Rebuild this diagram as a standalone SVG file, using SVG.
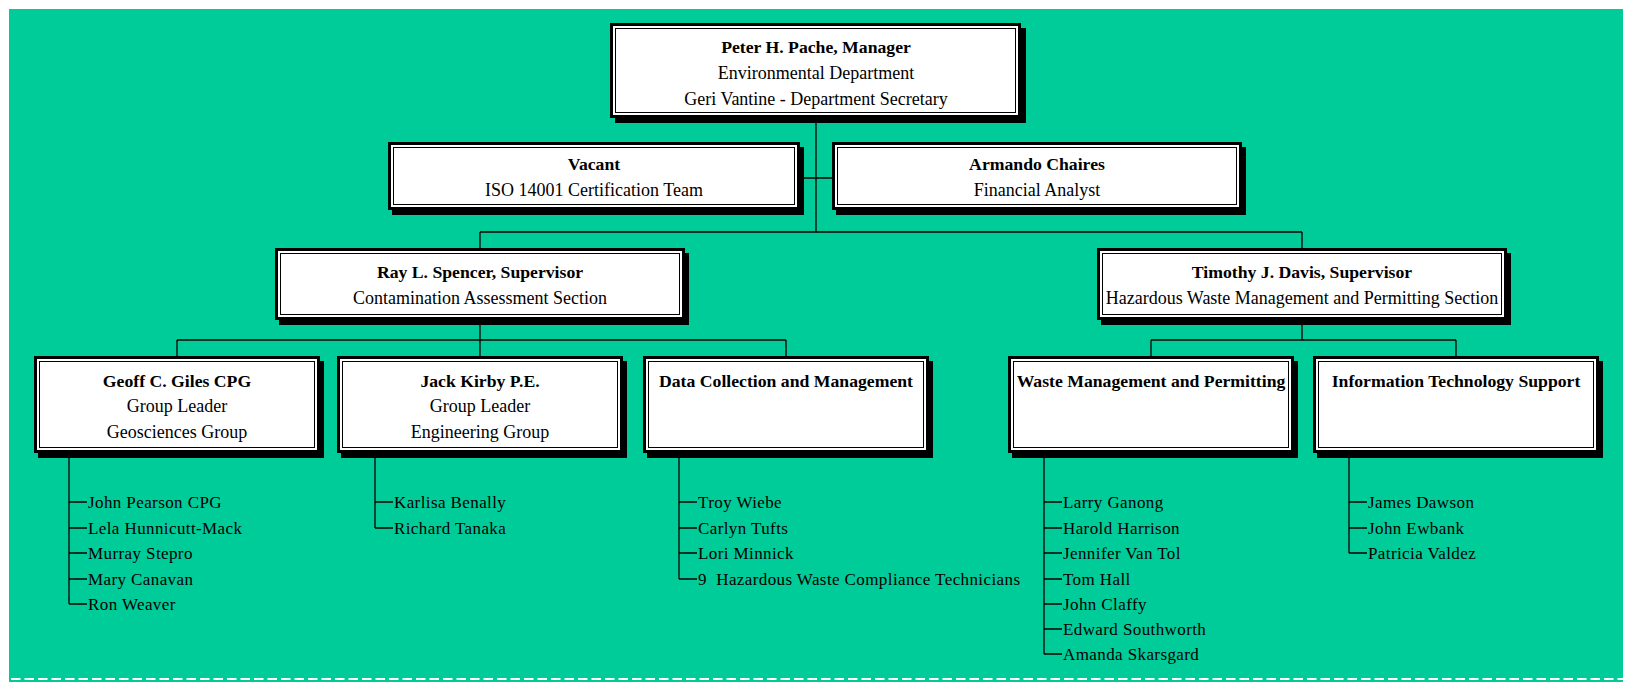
<svg xmlns="http://www.w3.org/2000/svg" width="1627" height="682" viewBox="0 0 1627 682">
<defs>
<style>
.bg{fill:#00cc99}
.sh{fill:#000}
.fr{fill:#fff;stroke:#000;stroke-width:3}
.in{fill:none;stroke:#000;stroke-width:1}
.t{font-family:"Liberation Serif","Times New Roman",serif;font-size:18px;fill:#000;text-anchor:middle}
.b{font-weight:bold;font-size:17.7px}
.li{font-family:"Liberation Serif","Times New Roman",serif;font-size:17px;fill:#000;letter-spacing:0.4px}
.c{fill:none;stroke:#000;stroke-width:1.3}
.dash{fill:none;stroke:#fff;stroke-width:2;stroke-dasharray:9.5 4}
</style>
</defs>
<rect class="bg" x="9" y="9" width="1614" height="673"/>
<line class="dash" x1="11" y1="679" x2="1623" y2="679"/>

<g id="connectors">
<path class="c" d="M816 118V232M800 178H832M480 232H1302M480 232V249M1302 232V249"/>
<path class="c" d="M480 320V340M177 340H786M177 340V357M480 340V357M786 340V357"/>
<path class="c" d="M1302 320V340M1151 340H1456M1151 340V357M1456 340V357"/>
<path class="c" d="M69 452V604M69 502H87M69 528H87M69 553H87M69 579H87M69 604H87"/>
<path class="c" d="M375 452V528M375 502H393M375 528H393"/>
<path class="c" d="M679 452V579M679 502H697M679 528H697M679 553H697M679 579H697"/>
<path class="c" d="M1044 452V654M1044 502H1062M1044 528H1062M1044 553H1062M1044 579H1062M1044 604H1062M1044 629H1062M1044 654H1062"/>
<path class="c" d="M1349 452V553M1349 502H1367M1349 528H1367M1349 553H1367"/>
</g>

<g id="n-pache">
<rect class="sh" x="615" y="28" width="411" height="95"/>
<rect class="fr" x="611.5" y="24.5" width="408" height="92"/>
<rect class="in" x="615.5" y="28.5" width="400" height="84"/>
<text class="t b" x="816" y="53">Peter H. Pache, Manager</text>
<text class="t" x="816" y="79">Environmental Department</text>
<text class="t" x="816" y="104.5">Geri Vantine - Department Secretary</text>
</g>

<g id="n-vacant">
<rect class="sh" x="392" y="147" width="412" height="68"/>
<rect class="fr" x="389.5" y="143.5" width="409" height="65"/>
<rect class="in" x="393.5" y="147.5" width="401" height="57"/>
<text class="t b" x="594" y="169.5">Vacant</text>
<text class="t" x="594" y="196">ISO 14001 Certification Team</text>
</g>

<g id="n-chaires">
<rect class="sh" x="836" y="147" width="410" height="68"/>
<rect class="fr" x="833.5" y="143.5" width="407" height="65"/>
<rect class="in" x="837.5" y="147.5" width="399" height="57"/>
<text class="t b" x="1037" y="169.5">Armando Chaires</text>
<text class="t" x="1037" y="196">Financial Analyst</text>
</g>

<g id="n-spencer">
<rect class="sh" x="279" y="253" width="410" height="72"/>
<rect class="fr" x="276.5" y="249.5" width="407" height="69"/>
<rect class="in" x="280.5" y="253.5" width="399" height="61"/>
<text class="t b" x="480" y="278">Ray L. Spencer, Supervisor</text>
<text class="t" x="480" y="304">Contamination Assessment Section</text>
</g>

<g id="n-davis">
<rect class="sh" x="1101" y="253" width="410" height="72"/>
<rect class="fr" x="1098.5" y="249.5" width="407" height="69"/>
<rect class="in" x="1102.5" y="253.5" width="399" height="61"/>
<text class="t b" x="1302" y="278">Timothy J. Davis, Supervisor</text>
<text class="t" x="1302" y="304">Hazardous Waste Management and Permitting Section</text>
</g>

<g id="n-giles">
<rect class="sh" x="38" y="361" width="286" height="97"/>
<rect class="fr" x="35.5" y="357.5" width="283" height="94"/>
<rect class="in" x="39.5" y="361.5" width="275" height="86"/>
<text class="t b" x="177" y="387">Geoff C. Giles CPG</text>
<text class="t" x="177" y="412">Group Leader</text>
<text class="t" x="177" y="438">Geosciences Group</text>
</g>

<g id="n-kirby">
<rect class="sh" x="341" y="361" width="286" height="97"/>
<rect class="fr" x="338.5" y="357.5" width="283" height="94"/>
<rect class="in" x="342.5" y="361.5" width="275" height="86"/>
<text class="t b" x="480" y="387">Jack Kirby P.E.</text>
<text class="t" x="480" y="412">Group Leader</text>
<text class="t" x="480" y="438">Engineering Group</text>
</g>

<g id="n-data">
<rect class="sh" x="647" y="361" width="286" height="97"/>
<rect class="fr" x="644.5" y="357.5" width="283" height="94"/>
<rect class="in" x="648.5" y="361.5" width="275" height="86"/>
<text class="t b" x="786" y="387">Data Collection and Management</text>
</g>

<g id="n-waste">
<rect class="sh" x="1012" y="361" width="286" height="97"/>
<rect class="fr" x="1009.5" y="357.5" width="283" height="94"/>
<rect class="in" x="1013.5" y="361.5" width="275" height="86"/>
<text class="t b" x="1151" y="387">Waste Management and Permitting</text>
</g>

<g id="n-it">
<rect class="sh" x="1317" y="361" width="286" height="97"/>
<rect class="fr" x="1314.5" y="357.5" width="283" height="94"/>
<rect class="in" x="1318.5" y="361.5" width="275" height="86"/>
<text class="t b" x="1456" y="387">Information Technology Support</text>
</g>

<g id="list-giles">
<text class="li" x="88" y="508">John Pearson CPG</text>
<text class="li" x="88" y="534">Lela Hunnicutt-Mack</text>
<text class="li" x="88" y="559">Murray Stepro</text>
<text class="li" x="88" y="585">Mary Canavan</text>
<text class="li" x="88" y="610">Ron Weaver</text>
</g>
<g id="list-kirby">
<text class="li" x="394" y="508">Karlisa Benally</text>
<text class="li" x="394" y="534">Richard Tanaka</text>
</g>
<g id="list-data">
<text class="li" x="698" y="508">Troy Wiebe</text>
<text class="li" x="698" y="534">Carlyn Tufts</text>
<text class="li" x="698" y="559">Lori Minnick</text>
<text class="li" x="698" y="585" xml:space="preserve">9  Hazardous Waste Compliance Technicians</text>
</g>
<g id="list-waste">
<text class="li" x="1063" y="508">Larry Ganong</text>
<text class="li" x="1063" y="534">Harold Harrison</text>
<text class="li" x="1063" y="559">Jennifer Van Tol</text>
<text class="li" x="1063" y="585">Tom Hall</text>
<text class="li" x="1063" y="610">John Claffy</text>
<text class="li" x="1063" y="635">Edward Southworth</text>
<text class="li" x="1063" y="660">Amanda Skarsgard</text>
</g>
<g id="list-it">
<text class="li" x="1368" y="508">James Dawson</text>
<text class="li" x="1368" y="534">John Ewbank</text>
<text class="li" x="1368" y="559">Patricia Valdez</text>
</g>
</svg>
